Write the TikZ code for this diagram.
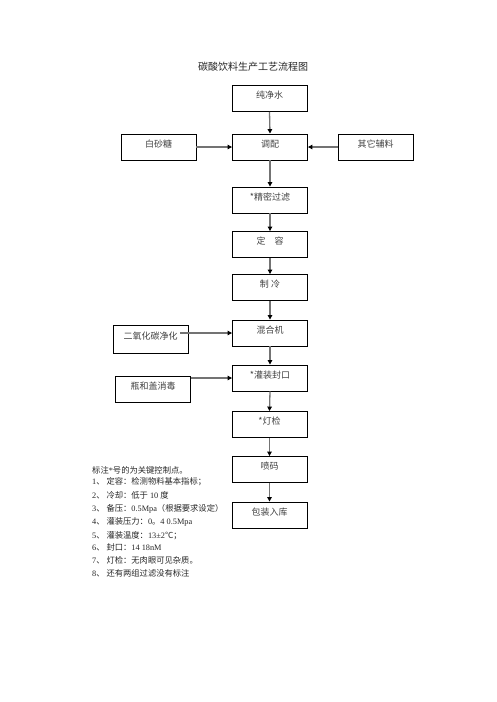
\documentclass[tikz,border=0pt]{standalone}
\usepackage{fontspec}
\setmainfont{Liberation Serif}
\newfontfamily\cjk{Noto Sans CJK SC}
\usetikzlibrary{arrows.meta}
\tikzset{
  box/.style={draw=black,line width=0.9pt,minimum width=75pt,minimum height=26pt,inner sep=0pt,
    font=\cjk\fontsize{9}{10}\selectfont,text height=6pt,text depth=6pt,text=black!75},
  conn/.style={draw=black!55,line width=1.3pt,-{Triangle[length=4.5pt,width=4.5pt,fill=black,color=black]}},
  note/.style={anchor=base west,inner sep=0pt,font=\fontsize{8.3}{9}\selectfont,text=black!85}
}
\begin{document}
\begin{tikzpicture}[x=1pt,y=-1pt]
\useasboundingbox (0,0) rectangle (496,702);
\node[font=\cjk\fontsize{10}{12}\selectfont,text=black!85] (title) at (253,67) {碳酸饮料生产工艺流程图};
\node[box] (pure) at (269.5,98.5) {纯净水};
\node[box] (mix) at (270,147) {调配};
\node[box] (sugar) at (158.5,147) {白砂糖};
\node[box] (other) at (375.5,147) {其它辅料};
\node[box] (filter) at (270,200) {*精密过滤};
\node[box] (dr) at (270,244.5) {定\quad 容};
\node[box] (cool) at (270,287.5) {制\ 冷};
\node[box] (mixer) at (270,333) {混合机};
\node[box,minimum height=28pt] (co2) at (150.5,339) {二氧化碳净化};
\node[box] (fill) at (270,378) {*灌装封口};
\node[box] (bottle) at (153,389) {瓶和盖消毒};
\node[box] (light) at (269.5,424.5) {*灯检};
\node[box] (code) at (269.5,469.5) {喷码};
\node[box] (pack) at (269.5,515) {包装入库};

\draw[conn] (pure.south) -- (mix.north);
\draw[conn] (sugar.east) -- (mix.west);
\draw[conn] (other.west) -- (mix.east);
\draw[conn] (mix.south) -- (filter.north);
\draw[conn] (filter.south) -- (dr.north);
\draw[conn] (dr.south) -- (cool.north);
\draw[conn] (cool.south) -- (mixer.north);
\draw[conn] ([xshift=-8pt]co2.east |- mixer.west) -- (mixer.west);
\draw[conn] (mixer.south) -- (fill.north);
\draw[conn] (bottle.east |- fill.west) -- (fill.west);
\draw[conn] (fill.south) -- (light.north);
\draw[conn] (light.south) -- (code.north);
\draw[conn] (code.south) -- (pack.north);

\node[note] (n0) at (92,473) {{\cjk 标注}*{\cjk 号的为关键控制点。}};
\node[note] (n1) at (92,484.7) {1{\cjk 、\ 定容：检测物料基本指标；}};
\node[note] (n2) at (92,498) {2{\cjk 、\ 冷却：低于} 10 {\cjk 度}};
\node[note] (n3) at (92,511.3) {3{\cjk 、\ 备压：}0.5Mpa{\cjk （根据要求设定）}};
\node[note] (n4) at (92,524.7) {4{\cjk 、\ 灌装压力：}0{\cjk 。}4 0.5Mpa};
\node[note] (n5) at (92,538) {5{\cjk 、\ 灌装温度：}13±2{\cjk ℃；}};
\node[note] (n6) at (92,550.7) {6{\cjk 、\ 封口：}14 18nM};
\node[note] (n7) at (92,563.7) {7{\cjk 、\ 灯检：无肉眼可见杂质。}};
\node[note] (n8) at (92,576.7) {8{\cjk 、\ 还有两组过滤没有标注}};
\end{tikzpicture}
\end{document}
